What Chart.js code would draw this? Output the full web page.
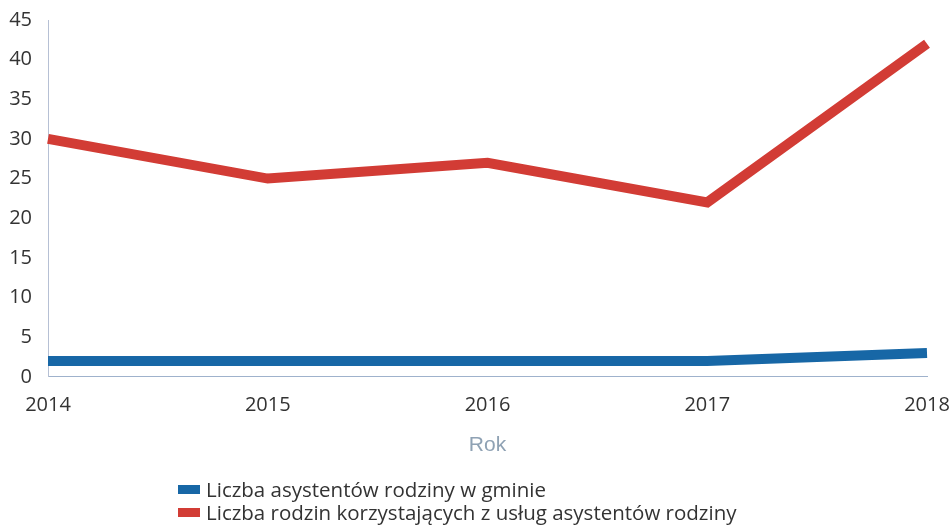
<!DOCTYPE html>
<html>
<head>
<meta charset="utf-8">
<script src="https://cdn.jsdelivr.net/npm/chart.js@4.4.0/dist/chart.umd.min.js"></script>
<style>
  body { margin: 0; background: #fff; }
  .wrap { position: relative; width: 951px; height: 526px; }
  #legend { position: absolute; left: 178px; top: 478px; font-family: "Open Sans", sans-serif; font-size: 20.5px; color: #333; line-height: 23px; }
  #legend .item { display: flex; align-items: center; white-space: nowrap; }
  #legend .box { display: inline-block; width: 22px; height: 9px; margin-right: 6px; }
</style>
</head>
<body>
<div class="wrap">
  <canvas id="chart" width="951" height="526"></canvas>
  <div id="legend"></div>
</div>
<script>
const years = ['2014', '2015', '2016', '2017', '2018'];
const asystenci = [2, 2, 2, 2, 3];
const rodziny = [30, 25, 27, 22, 42];
const seriesNames = ['Liczba asystentów rodziny w gminie', 'Liczba rodzin korzystających z usług asystentów rodziny'];
const seriesColors = ['#1767a6', '#d23c35'];

const ctx = document.getElementById('chart').getContext('2d');
const chart = new Chart(ctx, {
  type: 'line',
  data: {
    labels: years,
    datasets: [
      { label: seriesNames[0], data: asystenci, borderColor: seriesColors[0], backgroundColor: seriesColors[0], borderWidth: 10, pointRadius: 0, tension: 0 },
      { label: seriesNames[1], data: rodziny, borderColor: seriesColors[1], backgroundColor: seriesColors[1], borderWidth: 10, pointRadius: 0, tension: 0 }
    ]
  },
  options: {
    responsive: false,
    animation: false,
    layout: { padding: { top: 14, bottom: 68, left: 0, right: 0 } },
    plugins: { legend: { display: false }, tooltip: { enabled: false } },
    scales: {
      x: {
        grid: { display: false },
        border: { display: true, color: '#9fb2cc', dash: [2, 2], width: 1 },
        ticks: { color: '#333', font: { family: 'Open Sans', size: 20 }, padding: 8, maxRotation: 0 },
        title: { display: true, text: 'Rok', color: '#8fa2b4', font: { family: 'Liberation Sans', size: 21 }, padding: { top: 8, bottom: 0 } },
        afterFit: (scale) => { scale.paddingRight = 24; }
      },
      y: {
        min: 0, max: 45,
        grid: { display: false },
        border: { display: true, color: '#b6c0d4', dash: [2, 2], width: 1 },
        ticks: { stepSize: 5, color: '#333', font: { family: 'Open Sans', size: 20 }, padding: 8 },
        afterFit: (scale) => { scale.width = 48; }
      }
    }
  }
});

// legend below the chart, both lines aligned left
const legend = document.getElementById('legend');
seriesNames.forEach((name, i) => {
  const item = document.createElement('div');
  item.className = 'item';
  item.innerHTML = '<span class="box" style="background:' + seriesColors[i] + '"></span>' + name;
  legend.appendChild(item);
});
</script>
</body>
</html>
